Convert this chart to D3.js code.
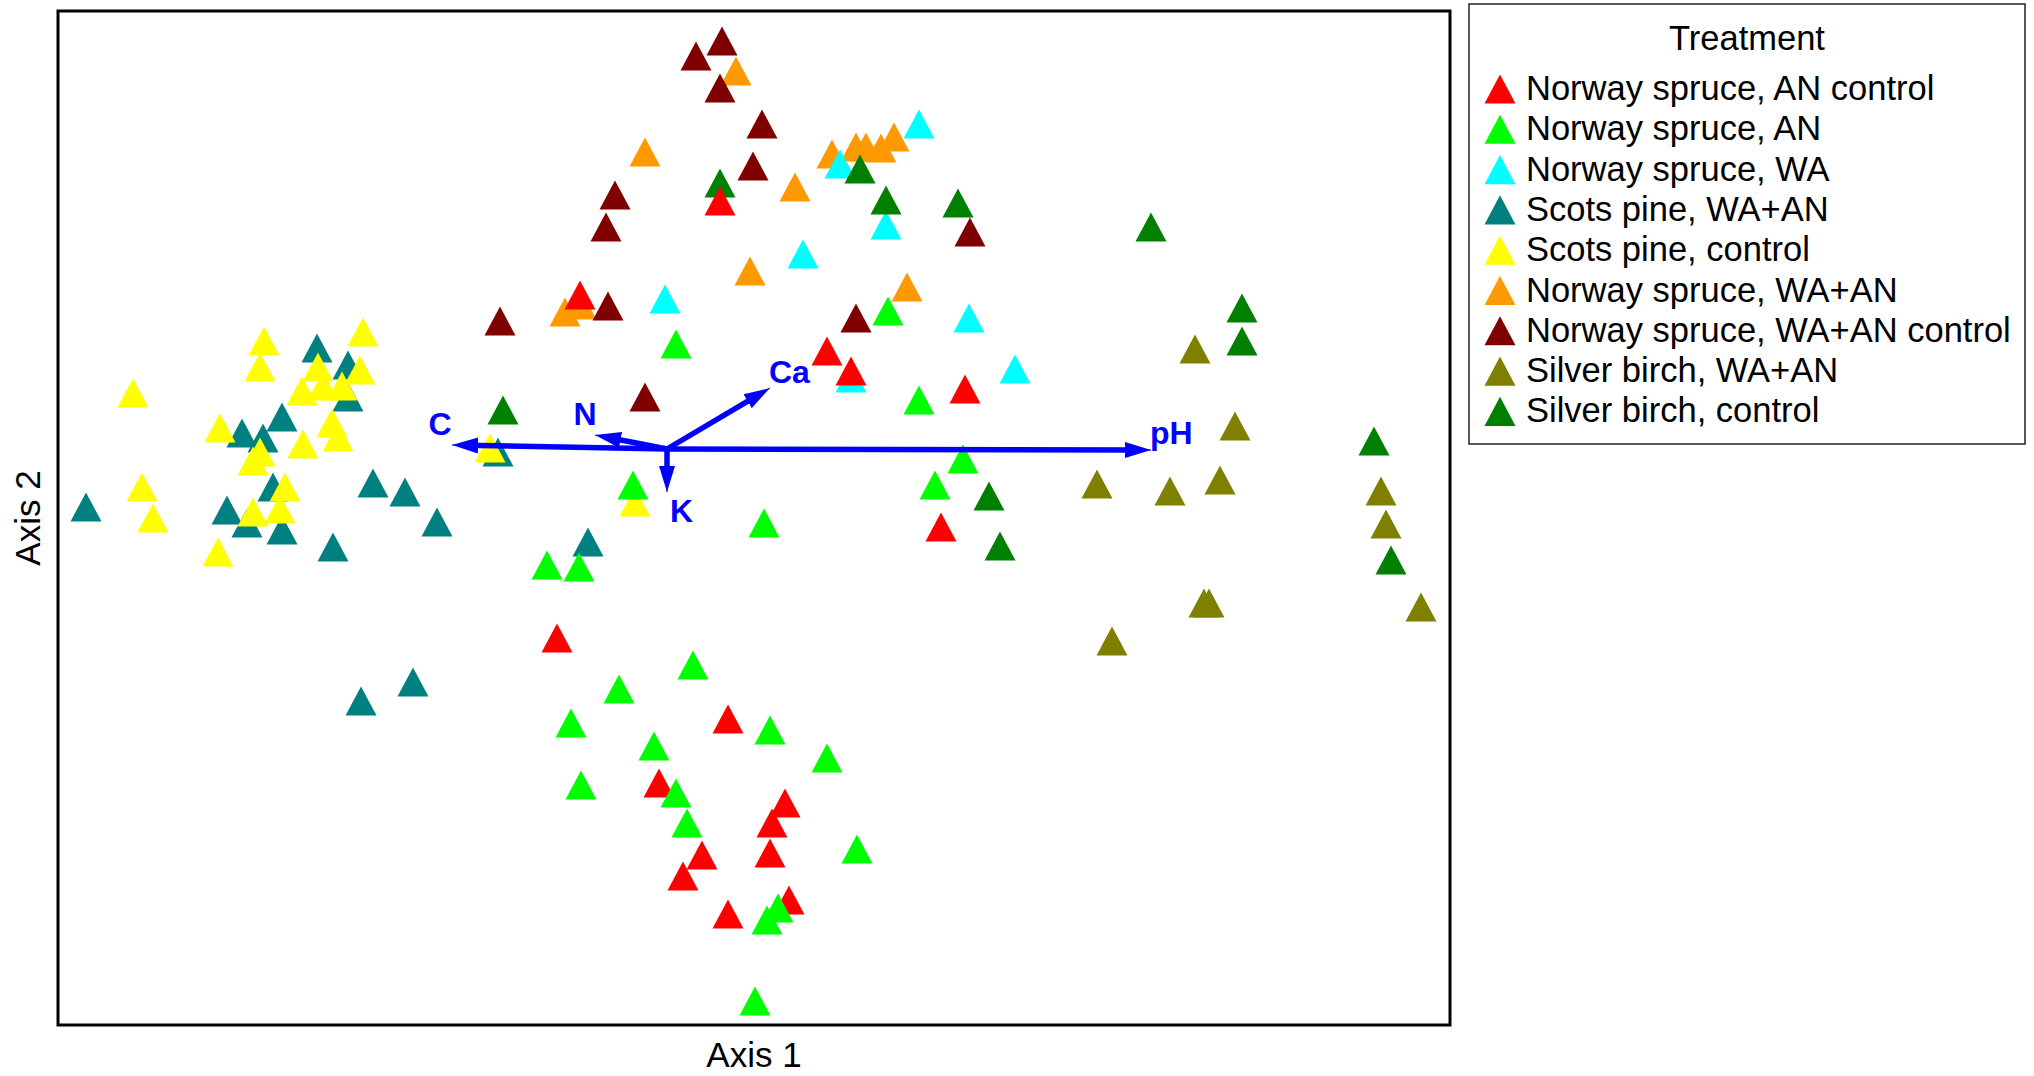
<!DOCTYPE html>
<html>
<head>
<meta charset="utf-8">
<script src="https://cdn.jsdelivr.net/npm/d3@7"></script>
<style>
  body { margin: 0; background: #fff; }
  text { font-family: "Liberation Sans", Arial, sans-serif; }
</style>
</head>
<body>
<svg id="chart" width="2034" height="1076"></svg>
<script>
// ordination scores (axis 1, axis 2) per treatment
var treatments = [
  "Norway spruce, AN control",
  "Norway spruce, AN",
  "Norway spruce, WA",
  "Scots pine, WA+AN",
  "Scots pine, control",
  "Norway spruce, WA+AN",
  "Norway spruce, WA+AN control",
  "Silver birch, WA+AN",
  "Silver birch, control"
];
var colors = ["#ff0000", "#00ff00", "#00ffff", "#008080", "#ffff00", "#ff9900", "#800000", "#808000", "#008000"];

var nsAnControl = [[0.53,2.48],[-0.87,1.54],[1.60,0.98],[1.84,0.78],[2.98,0.60],[2.74,-0.78],[-1.10,-1.89],[0.61,-2.70],
  [-0.08,-3.34],[1.18,-3.54],[1.05,-3.74],[1.03,-4.04],[0.35,-4.06],[0.16,-4.27],[0.61,-4.65],[1.22,-4.51]];
var nsAn = [[0.09,1.05],[2.21,1.38],[2.52,0.49],[2.96,-0.10],[2.68,-0.36],[-0.34,-0.36],[0.97,-0.74],[-1.20,-1.16],
  [-0.88,-1.18],[0.26,-2.16],[-0.48,-2.40],[1.03,-2.81],[-0.96,-2.74],[-0.13,-2.97],[1.60,-3.09],[-0.86,-3.36],
  [0.09,-3.44],[0.20,-3.74],[1.90,-4.00],[1.11,-4.59],[1.00,-4.71],[0.88,-5.52]];
var nsWa = [[2.52,3.25],[1.73,2.85],[2.19,2.24],[1.36,1.95],[-0.02,1.50],[3.02,1.31],[3.48,0.80],[1.84,0.71]];
var spWaAn = [[-3.50,1.01],[-3.19,0.84],[-3.19,0.52],[-4.25,0.16],[-4.04,0.11],[-3.85,0.32],[-3.94,-0.38],[-5.81,-0.58],
  [-4.40,-0.61],[-4.20,-0.74],[-3.85,-0.81],[-3.34,-0.98],[-2.94,-0.34],[-2.62,-0.43],[-2.30,-0.73],[-3.06,-2.52],
  [-2.54,-2.33],[-1.69,-0.03],[-0.79,-0.93]];
var spControl = [[-3.04,1.17],[-4.03,1.08],[-4.07,0.82],[-5.34,0.56],[-3.07,0.79],[-3.49,0.82],[-3.65,0.58],[-3.44,0.63],
  [-3.25,0.63],[-4.47,0.21],[-3.35,0.26],[-3.29,0.12],[-3.64,0.05],[-4.07,-0.03],[-4.14,-0.12],[-3.82,-0.38],
  [-5.25,-0.38],[-5.14,-0.69],[-4.14,-0.63],[-3.87,-0.60],[-4.49,-1.03],[-1.77,0.01],[-0.32,-0.53]];
var nsWaAn = [[0.69,3.78],[-0.22,2.97],[1.65,2.95],[1.89,3.02],[1.99,3.02],[2.14,3.01],[2.27,3.12],[1.28,2.62],
  [0.83,1.78],[-1.02,1.37],[-0.86,1.44],[2.40,1.62]];
var nsWaAnControl = [[0.55,4.08],[0.29,3.93],[0.53,3.61],[0.95,3.25],[0.86,2.83],[-0.52,2.54],[-0.61,2.22],[3.03,2.17],
  [-0.59,1.43],[-1.67,1.28],[1.89,1.31],[-0.22,0.52]];
var sbWaAn = [[5.28,1.00],[5.68,0.23],[4.30,-0.35],[5.03,-0.42],[5.53,-0.31],[7.14,-0.42],[7.19,-0.75],[5.37,-1.54],
  [5.42,-1.54],[7.54,-1.58],[4.45,-1.92]];
var sbControl = [[0.53,2.66],[1.93,2.80],[2.19,2.49],[2.91,2.46],[4.84,2.22],[5.75,1.41],[5.75,1.08],[7.07,0.08],
  [3.22,-0.47],[3.33,-0.97],[7.24,-1.11],[-1.64,0.39]];

// environmental vectors
var vectorNames = ["C", "N", "Ca", "K", "pH"];
var vectorEnds = [[-2.15,0.04],[-0.72,0.14],[1.03,0.61],[0,-0.43],[4.84,-0.01]];

var series = [nsAnControl, nsAn, nsWa, spWaAn, spControl, nsWaAn, nsWaAnControl, sbWaAn, sbControl];
var drawOrder = [5, 6, 3, 4, 2, 8, 0, 1, 7];

var svg = d3.select("#chart");
var plot = {left: 58, top: 11, right: 1450, bottom: 1025};

var x = d3.scaleLinear().domain([-6.09, 7.83]).range([plot.left, plot.right]);
var y = d3.scaleLinear().domain([-5.76, 4.38]).range([plot.bottom, plot.top]);

// triangle marker, size = base width
var tri = {
  draw: function(ctx, size) {
    var w = size / 2, h = size * 0.47;
    ctx.moveTo(0, -h);
    ctx.lineTo(w, h);
    ctx.lineTo(-w, h);
    ctx.closePath();
  }
};
var symbol = d3.symbol().type(tri).size(31);

var points = [];
drawOrder.forEach(function(g) {
  series[g].forEach(function(p) { points.push({g: g, x: p[0], y: p[1]}); });
});

svg.append("g").selectAll("path")
  .data(points)
  .enter().append("path")
  .attr("d", symbol)
  .attr("transform", function(d) { return "translate(" + x(d.x) + "," + y(d.y) + ")"; })
  .attr("fill", function(d) { return colors[d.g]; });

// vectors
var blue = "#0000ff";
svg.append("defs").append("marker")
  .attr("id", "head")
  .attr("markerUnits", "userSpaceOnUse")
  .attr("viewBox", "0 0 26 18")
  .attr("refX", 26).attr("refY", 9)
  .attr("markerWidth", 26).attr("markerHeight", 18)
  .attr("orient", "auto")
  .append("path")
  .attr("d", "M0,1 L26,9 L0,17 Z")
  .attr("fill", blue);

var labelOffsets = {C: [-12, -10, "middle"], N: [-10, -10, "middle"], Ca: [-1, -5, "start"], K: [3, 30, "start"], pH: [-1, -6, "start"]};

var vg = svg.append("g");
vectorEnds.forEach(function(v, i) {
  var x0 = x(0), y0 = y(0), x1 = x(v[0]), y1 = y(v[1]);
  var len = Math.hypot(x1 - x0, y1 - y0);
  var ux = (x1 - x0) / len, uy = (y1 - y0) / len;
  vg.append("line")
    .attr("x1", x0).attr("y1", y0)
    .attr("x2", x1 - ux * 12).attr("y2", y1 - uy * 12)
    .attr("stroke", blue).attr("stroke-width", 5.5);
  vg.append("path")
    .attr("d", "M" + (x1 - ux * 12) + "," + (y1 - uy * 12) + "L" + x1 + "," + y1)
    .attr("stroke", blue).attr("stroke-width", 1)
    .attr("marker-end", "url(#head)");
  var o = labelOffsets[vectorNames[i]];
  vg.append("text")
    .attr("x", x1 + o[0]).attr("y", y1 + o[1])
    .attr("text-anchor", o[2])
    .attr("font-size", 32).attr("font-weight", "bold")
    .attr("fill", blue)
    .text(vectorNames[i]);
});

// plot frame
svg.append("rect")
  .attr("x", plot.left).attr("y", plot.top)
  .attr("width", plot.right - plot.left).attr("height", plot.bottom - plot.top)
  .attr("fill", "none").attr("stroke", "#000").attr("stroke-width", 3);

svg.append("text")
  .attr("x", (plot.left + plot.right) / 2).attr("y", 1067)
  .attr("text-anchor", "middle").attr("font-size", 35)
  .text("Axis 1");
svg.append("text")
  .attr("transform", "translate(40," + (plot.top + plot.bottom) / 2 + ") rotate(-90)")
  .attr("text-anchor", "middle").attr("font-size", 35)
  .text("Axis 2");

// legend
var lg = svg.append("g");
lg.append("rect")
  .attr("x", 1469).attr("y", 4).attr("width", 556).attr("height", 440)
  .attr("fill", "#fff").attr("stroke", "#222").attr("stroke-width", 1.5);
lg.append("text")
  .attr("x", 1747).attr("y", 50)
  .attr("text-anchor", "middle").attr("font-size", 34.5)
  .text("Treatment");
var rows = lg.selectAll("g.row")
  .data(treatments)
  .enter().append("g")
  .attr("class", "row")
  .attr("transform", function(d, i) { return "translate(0," + (i * 40.3) + ")"; });
rows.append("path")
  .attr("d", symbol)
  .attr("transform", "translate(1500,89)")
  .attr("fill", function(d, i) { return colors[i]; });
rows.append("text")
  .attr("x", 1526).attr("y", 100)
  .attr("font-size", 34.5)
  .text(function(d) { return d; });
</script>
</body>
</html>
